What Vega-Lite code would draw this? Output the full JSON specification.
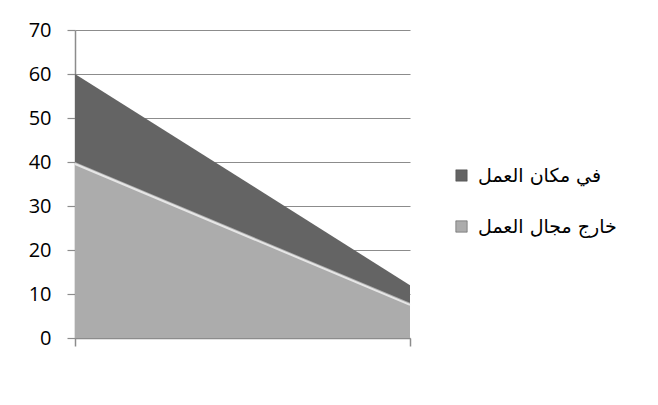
{
  "$schema": "https://vega.github.io/schema/vega-lite/v6.json",
  "autosize": {"type": "none"},
  "width": 335,
  "height": 308,
  "padding": {"left": 75, "top": 30, "right": 248, "bottom": 67},
  "background": "white",
  "config": {"view": {"stroke": null}},
  "data": {
    "values": [
      {"p": 0, "v": 60, "s": "في مكان العمل"},
      {"p": 1, "v": 12, "s": "في مكان العمل"},
      {"p": 0, "v": 40, "s": "خارج مجال العمل"},
      {"p": 1, "v": 8, "s": "خارج مجال العمل"}
    ]
  },
  "encoding": {
    "x": {
      "field": "p", "type": "quantitative",
      "scale": {"domain": [0, 1], "nice": false},
      "axis": {"title": null, "labels": false, "grid": false, "values": [0, 1], "tickSize": 8, "tickColor": "#8c8c8c", "domainColor": "#8c8c8c", "tickWidth": 1.5, "domainWidth": 1.5}
    },
    "y": {
      "field": "v", "type": "quantitative", "stack": null,
      "scale": {"domain": [0, 70], "nice": false},
      "axis": {"title": null, "values": [0, 10, 20, 30, 40, 50, 60, 70], "tickSize": 8, "tickColor": "#8c8c8c", "domainColor": "#8c8c8c", "gridColor": "#8c8c8c", "gridWidth": 1.2, "tickWidth": 1.2, "domainWidth": 1.5, "labelFont": "Open Sans", "labelFontSize": 20, "labelColor": "#000000", "labelPadding": 16}
    }
  },
  "layer": [
    {
      "mark": {"type": "area", "line": false},
      "encoding": {
        "color": {
          "field": "s", "type": "nominal",
          "scale": {"domain": ["في مكان العمل", "خارج مجال العمل"], "range": ["#646464", "#acacac"]},
          "legend": {"title": null, "orient": "none", "legendX": 377, "legendY": 136, "symbolType": "square", "symbolSize": 130, "symbolStrokeColor": "#444", "symbolStrokeWidth": 0.5, "labelFont": "DejaVu Sans", "labelFontSize": 19, "labelColor": "#000000", "rowPadding": 31, "labelOffset": 7}
        },
        "order": {"field": "s", "sort": "descending"}
      }
    },
    {
      "transform": [{"filter": "datum.s === 'خارج مجال العمل'"}],
      "mark": {"type": "line", "color": "#e6e6e6", "strokeWidth": 2, "yOffset": 2}
    }
  ]
}
